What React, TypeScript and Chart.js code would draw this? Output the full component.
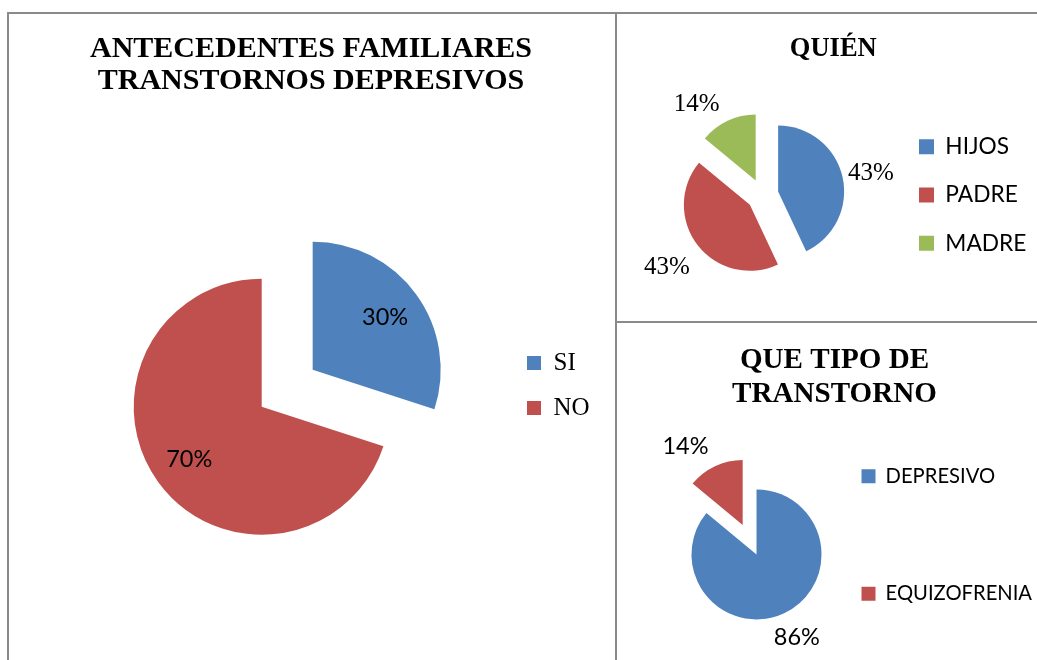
import React, { useEffect, useRef } from 'react';
import { Chart, registerables } from 'chart.js';

Chart.register(...registerables);

const CANVAS_W = 1037;
const CANVAS_H = 800;

const SERIF = "'Liberation Serif', 'Times New Roman', serif";
const SANS = "Lato, 'Liberation Sans', sans-serif";

const BLUE = '#4F81BD';
const RED = '#C0504D';
const GREEN = '#9BBB59';

// Chart 1 — antecedentes familiares
const familyTitle = ['ANTECEDENTES FAMILIARES', 'TRANSTORNOS DEPRESIVOS'];
const familyCategories = ['SI', 'NO'];
const familyValues = [30, 70];

// Chart 2 — quién
const whoTitle = ['QUIÉN'];
const whoCategories = ['HIJOS', 'PADRE', 'MADRE'];
const whoValues = [43, 43, 14];

// Chart 3 — tipo de transtorno
const typeTitle = ['QUE TIPO DE', 'TRANSTORNO'];
const typeCategories = ['DEPRESIVO', 'EQUIZOFRENIA'];
const typeValues = [86, 14];

type PanelCfg = {
  categories: string[];
  values: number[];
  colors: string[];
  title: string[];
  titleSize: number;
  titleLineH: number;
  titleMid: number;
  titleCX: number;
  legendFamily: string;
  legendSize: number;
  boxW: number;
  boxH: number;
  legendSpacing: number;
  legendFirstY: number;
  boxX: number;
  cx: number;
  cy: number;
  radius: number;
  explode: number[];
  labelFamily: string;
  labelSize: number;
  labelFactor: number[];
  labelDelta: number[];
};

const panel1: PanelCfg = {
  categories: familyCategories,
  values: familyValues,
  colors: [BLUE, RED],
  title: familyTitle,
  titleSize: 30,
  titleLineH: 32.7,
  titleMid: 49,
  titleCX: 311,
  legendFamily: SERIF,
  legendSize: 25,
  boxW: 14,
  boxH: 14,
  legendSpacing: 45,
  legendFirstY: 363,
  boxX: 527,
  cx: 261.7,
  cy: 406.7,
  radius: 128,
  explode: [63, 0],
  labelFamily: SANS,
  labelSize: 23.5,
  labelFactor: [0.7, 0.7],
  labelDelta: [0, 0],
};

const panel2: PanelCfg = {
  categories: whoCategories,
  values: whoValues,
  colors: [BLUE, RED, GREEN],
  title: whoTitle,
  titleSize: 26.5,
  titleLineH: 31.8,
  titleMid: 49.5,
  titleCX: 833.3,
  legendFamily: SANS,
  legendSize: 22.7,
  boxW: 15,
  boxH: 15,
  legendSpacing: 48.3,
  legendFirstY: 146.7,
  boxX: 919,
  cx: 762.5,
  cy: 195,
  radius: 66,
  explode: [16, 16, 16],
  labelFamily: SERIF,
  labelSize: 25,
  labelFactor: [1.435, 1.574, 1.462],
  labelDelta: [1.4, 0.7, -12.6],
};

const panel3: PanelCfg = {
  categories: typeCategories,
  values: typeValues,
  colors: [BLUE, RED],
  title: typeTitle,
  titleSize: 29.1,
  titleLineH: 33.8,
  titleMid: 360.7,
  titleCX: 834.5,
  legendFamily: SANS,
  legendSize: 20.2,
  boxW: 14,
  boxH: 14,
  legendSpacing: 117.5,
  legendFirstY: 476.3,
  boxX: 861.5,
  cx: 749.6,
  cy: 539.7,
  radius: 65,
  explode: [16.25, 16.25],
  labelFamily: SANS,
  labelSize: 23.5,
  labelFactor: [1.415, 1.494],
  labelDelta: [-0.8, -10.9],
};

function makeConfig(cfg: PanelCfg) {
  const meas = document.createElement('canvas').getContext('2d')!;
  meas.font = `${cfg.legendSize}px ${cfg.legendFamily}`;
  const maxTextW = Math.max(...cfg.categories.map((t) => meas.measureText(t).width));
  const pad = 10;
  const itemH = Math.max(cfg.legendSize, cfg.boxH);
  const legendRight = cfg.boxX + cfg.boxW + cfg.legendSize / 2 + maxTextW + 10;
  const padRight = CANVAS_W - legendRight;
  const padLeft = 2 * cfg.titleCX - legendRight;
  const areaTop = cfg.legendFirstY - pad - itemH / 2;
  const titleTop = cfg.titleMid - cfg.titleLineH / 2;
  const titleBottom = areaTop - cfg.title.length * cfg.titleLineH - titleTop;

  const placePie = {
    id: 'placePie',
    afterDatasetsUpdate(chart: any) {
      const meta = chart.getDatasetMeta(0);
      meta.data.forEach((arc: any, i: number) => {
        const mid = (arc.startAngle + arc.endAngle) / 2;
        const d = cfg.explode[i] || 0;
        arc.x = cfg.cx + d * Math.cos(mid);
        arc.y = cfg.cy + d * Math.sin(mid);
      });
    },
  };

  const pieLabels = {
    id: 'pieLabels',
    afterDatasetsDraw(chart: any) {
      const ctx = chart.ctx as CanvasRenderingContext2D;
      const meta = chart.getDatasetMeta(0);
      ctx.save();
      ctx.font = `${cfg.labelSize}px ${cfg.labelFamily}`;
      ctx.fillStyle = '#000';
      ctx.textAlign = 'center';
      ctx.textBaseline = 'middle';
      meta.data.forEach((arc: any, i: number) => {
        const mid = (arc.startAngle + arc.endAngle) / 2 + (cfg.labelDelta[i] * Math.PI) / 180;
        const dist = arc.outerRadius * cfg.labelFactor[i];
        ctx.fillText(`${cfg.values[i]}%`, arc.x + dist * Math.cos(mid), arc.y + dist * Math.sin(mid));
      });
      ctx.restore();
    },
  };

  return {
    type: 'pie',
    data: {
      labels: cfg.categories,
      datasets: [
        {
          data: cfg.values,
          backgroundColor: cfg.colors,
          borderWidth: 0,
          radius: cfg.radius,
          hoverOffset: 0,
        },
      ],
    },
    options: {
      responsive: false,
      maintainAspectRatio: false,
      animation: false,
      events: [],
      layout: { padding: { left: padLeft, right: padRight, top: 0, bottom: 10 } },
      plugins: {
        title: {
          display: true,
          text: cfg.title,
          color: '#000',
          align: 'center',
          font: {
            family: SERIF,
            size: cfg.titleSize,
            weight: 'bold',
            lineHeight: cfg.titleLineH / cfg.titleSize,
          },
          padding: { top: titleTop, bottom: titleBottom },
        },
        legend: {
          display: true,
          position: 'right',
          align: 'start',
          fullSize: false,
          labels: {
            boxWidth: cfg.boxW,
            boxHeight: cfg.boxH,
            padding: pad,
            color: '#000',
            font: {
              family: cfg.legendFamily,
              size: cfg.legendSize,
              lineHeight: (cfg.legendSpacing - pad) / cfg.legendSize,
            },
            generateLabels: () =>
              cfg.categories.map((text, i) => ({
                text: [text],
                fillStyle: cfg.colors[i],
                strokeStyle: cfg.colors[i],
                lineWidth: 0,
                hidden: false,
                index: i,
                fontColor: '#000',
              })),
          },
        },
        tooltip: { enabled: false },
      },
    },
    plugins: [placePie, pieLabels],
  };
}

function PieCanvas({ cfg }: { cfg: PanelCfg }) {
  const ref = useRef<HTMLCanvasElement>(null);
  useEffect(() => {
    const chart = new Chart(ref.current as HTMLCanvasElement, makeConfig(cfg) as any);
    return () => chart.destroy();
  }, [cfg]);
  return (
    <canvas
      ref={ref}
      width={CANVAS_W}
      height={CANVAS_H}
      style={{ position: 'absolute', left: 0, top: 0, width: CANVAS_W, height: CANVAS_H }}
    />
  );
}

export default function App() {
  const border = '2px solid #8a8a8a';
  return (
    <div
      style={{
        position: 'fixed',
        left: 0,
        top: 0,
        width: 1037,
        height: 660,
        overflow: 'hidden',
        background: '#fff',
      }}
    >
      <div style={{ position: 'absolute', left: 7, top: 12, width: 610, height: 700, border, boxSizing: 'border-box' }} />
      <div style={{ position: 'absolute', left: 615, top: 12, width: 500, height: 311, border, boxSizing: 'border-box' }} />
      <div style={{ position: 'absolute', left: 615, top: 321, width: 500, height: 400, border, boxSizing: 'border-box' }} />
      <PieCanvas cfg={panel1} />
      <PieCanvas cfg={panel2} />
      <PieCanvas cfg={panel3} />
    </div>
  );
}
